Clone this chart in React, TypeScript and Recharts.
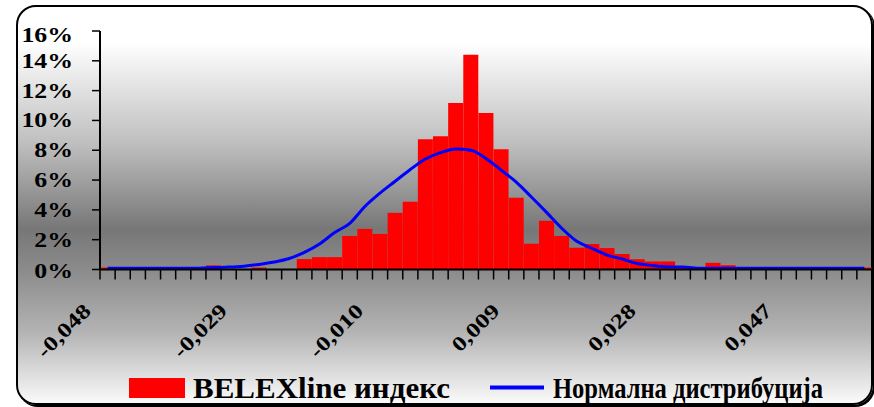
import { ComposedChart, Bar, Line, XAxis, YAxis } from 'recharts';

// bin labels (return of BELEXline), only every 9th is shown
const categories = [
  '-0,048', '-0,046', '-0,044', '-0,042', '-0,040', '-0,037', '-0,035', '-0,033', '-0,031',
  '-0,029', '-0,027', '-0,025', '-0,023', '-0,021', '-0,018', '-0,016', '-0,014', '-0,012',
  '-0,010', '-0,008', '-0,006', '-0,004', '-0,002', '0,001', '0,003', '0,005', '0,007',
  '0,009', '0,011', '0,013', '0,015', '0,017', '0,020', '0,022', '0,024', '0,026',
  '0,028', '0,030', '0,032', '0,034', '0,036', '0,039', '0,041', '0,043', '0,045',
  '0,047', '0,049', '0,051', '0,053', '0,055', '0,058',
];

// histogram frequencies, %
const belexValues = [
  0.13, 0, 0, 0, 0, 0, 0, 0.28, 0,
  0, 0.13, 0, 0, 0.7, 0.83, 0.83, 2.25, 2.72,
  2.39, 3.8, 4.55, 8.74, 8.94, 11.17, 14.4, 10.5, 8.06,
  4.82, 1.73, 3.27, 2.25, 1.46, 1.71, 1.44, 1.04, 0.69,
  0.54, 0.54, 0.1, 0, 0.45, 0.29, 0, 0, 0,
  0, 0, 0, 0, 0, 0.13,
];

// fitted normal distribution, %
const normalValues = [
  0.08, 0.08, 0.08, 0.08, 0.08, 0.08, 0.09, 0.13, 0.16,
  0.22, 0.34, 0.5, 0.74, 1.15, 1.71, 2.48, 3.1, 4.23,
  5.13, 5.92, 6.71, 7.41, 7.84, 8.08, 8.0, 7.45, 6.67,
  5.86, 4.86, 3.83, 2.77, 1.89, 1.42, 0.97, 0.7, 0.4,
  0.27, 0.18, 0.16, 0.09, 0.08, 0.08, 0.08, 0.08, 0.08,
  0.08, 0.08, 0.08, 0.08, 0.08, 0.08,
];

const yTicks = [0, 2, 4, 6, 8, 10, 12, 14, 16];

const seriesNames = ['BELEXline индекс', 'Нормална дистрибуција'];

const data = categories.map((c, i) => ({
  x: c,
  belex: belexValues[i],
  normal: normalValues[i],
}));

const W = 874;
const H = 407;
const PLOT_LEFT = 100;
const PLOT_RIGHT = 872;
const PLOT_TOP = 31;
const PLOT_BOTTOM = 269.5;
const BW = (PLOT_RIGHT - PLOT_LEFT) / categories.length;
const FONT = '"Liberation Serif", "Times New Roman", serif';
const LABEL_SIZE = 20.5;
const LABEL_STRETCH = 1.26;

const XTick = (props: any) => {
  const { x, y, index, payload } = props;
  const left = x - BW / 2;
  return (
    <g>
      <line x1={left} x2={left} y1={y} y2={y + 10} stroke="#000" strokeWidth={1.5} />
      {index === categories.length - 1 && (
        <line x1={x + BW / 2} x2={x + BW / 2} y1={y} y2={y + 10} stroke="#000" strokeWidth={1.5} />
      )}
      {index % 9 === 0 && (
        <text
          transform={`translate(${x - 15.5},${y + 42.5}) rotate(-45) scale(${LABEL_STRETCH},1)`}
          textAnchor="end"
          fontFamily={FONT}
          fontWeight="bold"
          fontSize={LABEL_SIZE}
          fill="#000"
        >
          {payload.value}
        </text>
      )}
    </g>
  );
};

const YTick = (props: any) => {
  const { y, payload } = props;
  const v = payload.value;
  // top label sits a bit lower so it stays inside the frame
  const off = v === 16 ? 4 : v === 0 ? 1.5 : 0;
  return (
    <text
      transform={`translate(73,${y + off + 7}) scale(${LABEL_STRETCH},1)`}
      textAnchor="end"
      fontFamily={FONT}
      fontWeight="bold"
      fontSize={LABEL_SIZE}
      fill="#000"
    >
      {v}%
    </text>
  );
};

export default function App() {
  return (
    <div style={{ position: 'absolute', left: 0, top: 0, width: W, height: H, overflow: 'hidden' }}>
      <div
        style={{
          position: 'absolute',
          left: 16,
          top: 5,
          width: 853,
          height: 396,
          border: '2px solid #000',
          borderRadius: 20,
          boxShadow: '2px 2px 0 #000',
          background:
            'linear-gradient(to bottom, #ffffff 0%, #ffffff 9%, #bdbdbd 35%, #777777 56%, #8a8a8a 66%, #b3b3b3 82%, #fafafa 100%)',
        }}
      />
      <div style={{ position: 'absolute', left: 0, top: 0 }}>
        <ComposedChart
          width={W}
          height={H}
          data={data}
          barCategoryGap={0}
          barGap={0}
          margin={{ top: PLOT_TOP, right: W - PLOT_RIGHT, bottom: 0, left: 0 }}
        >
          <XAxis
            dataKey="x"
            interval={0}
            height={H - PLOT_BOTTOM}
            tickSize={0}
            tickMargin={0}
            tickLine={false}
            axisLine={{ stroke: '#000', strokeWidth: 2 }}
            tick={<XTick />}
          />
          <YAxis
            width={PLOT_LEFT}
            domain={[0, 16]}
            ticks={yTicks}
            tickSize={8}
            axisLine={{ stroke: '#000', strokeWidth: 2 }}
            tickLine={{ stroke: '#000', strokeWidth: 1.5 }}
            tick={<YTick />}
          />
          <Bar dataKey="belex" name={seriesNames[0]} fill="#ff0000" isAnimationActive={false} />
          <Line
            dataKey="normal"
            name={seriesNames[1]}
            type="monotone"
            stroke="#0000ff"
            strokeWidth={3}
            dot={false}
            isAnimationActive={false}
          />
        </ComposedChart>
      </div>
      <svg width={W} height={H} style={{ position: 'absolute', left: 0, top: 0, pointerEvents: 'none' }}>
        <rect x={129} y={378} width={56} height={20} fill="#ff0000" />
        <text
          x={193}
          y={398}
          textLength={257}
          lengthAdjust="spacingAndGlyphs"
          fontFamily={FONT}
          fontWeight="bold"
          fontSize={29}
          fill="#000"
        >
          {seriesNames[0]}
        </text>
        <line x1={490} x2={544} y1={387.5} y2={387.5} stroke="#0000ff" strokeWidth={4} />
        <text
          x={553}
          y={398}
          textLength={270}
          lengthAdjust="spacingAndGlyphs"
          fontFamily={FONT}
          fontWeight="bold"
          fontSize={29}
          fill="#000"
        >
          {seriesNames[1]}
        </text>
      </svg>
    </div>
  );
}
